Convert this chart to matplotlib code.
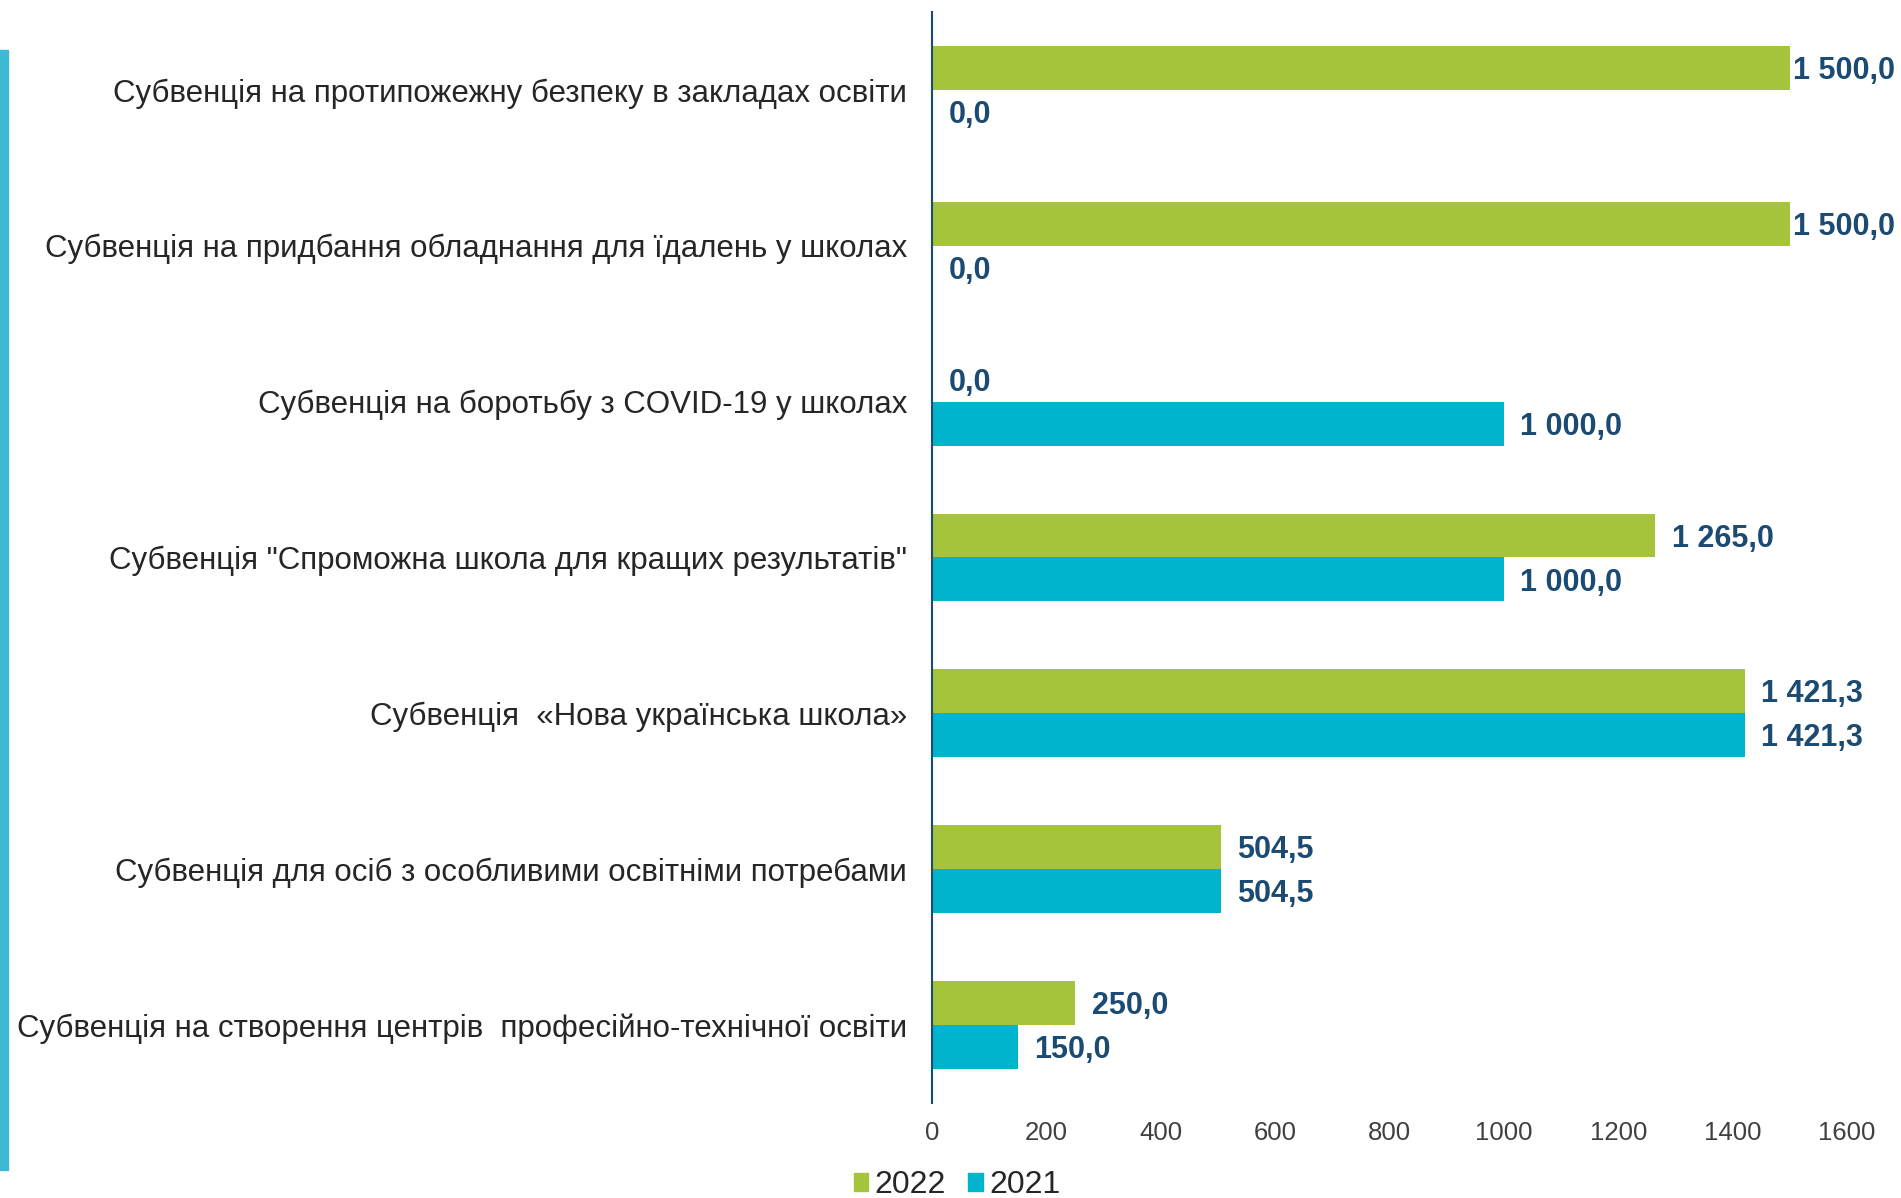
import matplotlib.pyplot as plt
from matplotlib.patches import Rectangle
import numpy as np

categories = [
    "Субвенція на протипожежну безпеку в закладах освіти",
    "Субвенція на придбання обладнання для їдалень у школах",
    "Субвенція на боротьбу з COVID-19 у школах",
    "Субвенція \"Спроможна школа для кращих результатів\"",
    "Субвенція  «Нова українська школа»",
    "Субвенція для осіб з особливими освітніми потребами",
    "Субвенція на створення центрів  професійно-технічної освіти",
]
values_2022 = [1500.0, 1500.0, 0.0, 1265.0, 1421.3, 504.5, 250.0]
values_2021 = [0.0, 0.0, 1000.0, 1000.0, 1421.3, 504.5, 150.0]
series_labels = ["2022", "2021"]
xticks = [0, 200, 400, 600, 800, 1000, 1200, 1400, 1600]

green = "#A5C33B"
cyan = "#00B5CB"
navy = "#1B4A72"

plt.rcParams['font.family'] = ['Liberation Sans', 'DejaVu Sans']


def fmt(v):
    s = f"{v:,.1f}".replace(",", " ").replace(".", ",")
    return s


fig = plt.figure(figsize=(19.01, 11.98), dpi=100)
ax = fig.add_axes([0.4903, 0.0793, 0.4813, 0.9107])

y = np.arange(len(categories))
h = 0.282
bars22 = ax.barh(y - h / 2, values_2022, height=h, color=green)
bars21 = ax.barh(y + h / 2, values_2021, height=h, color=cyan)

for bars, vals in ((bars22, values_2022), (bars21, values_2021)):
    for b, v in zip(bars, vals):
        off = 5 if v >= 1500 else 29
        ax.text(v + off, b.get_y() + b.get_height() / 2 + 0.02, fmt(v), ha='left', va='center',
                fontsize=22, fontweight='bold', color=navy)

ax.set_xlim(0, 1600)
ax.set_ylim(len(categories) - 0.5, -0.5)
ax.set_yticks(y)
ax.set_yticklabels(categories, fontsize=22.5, color='#262626')
ax.set_xticks(xticks)
ax.set_xticklabels([str(t) for t in xticks], fontsize=18.5, color='#404040')
ax.tick_params(axis='both', length=0)
ax.tick_params(axis='y', pad=18)
ax.tick_params(axis='x', pad=13)
for s in ('top', 'right', 'bottom'):
    ax.spines[s].set_visible(False)
ax.spines['left'].set_color(navy)
ax.spines['left'].set_linewidth(1.5)

# legend at the bottom
handles = [Rectangle((0, 0), 1, 1, color=green), Rectangle((0, 0), 1, 1, color=cyan)]
fig.legend(handles, series_labels, loc='center', bbox_to_anchor=(0.5035, 0.0105), ncol=2,
           frameon=False, fontsize=23, handlelength=0.45, handleheight=0.45,
           handletextpad=0.2, columnspacing=0.7, labelcolor='#262626')

# decorative stripe on the left edge
fig.add_artist(Rectangle((0, 0.0234), 0.0042, 0.935, color="#3DB9D3",
                         transform=fig.transFigure))

fig.savefig("out.png", dpi=100)
